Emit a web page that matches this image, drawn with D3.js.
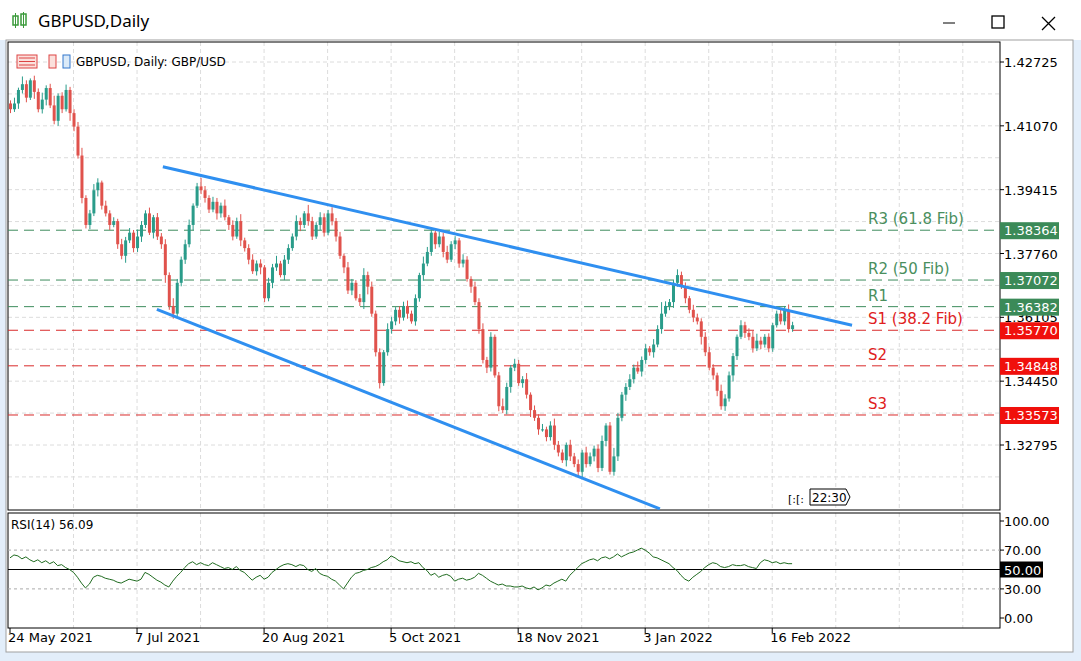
<!DOCTYPE html><html><head><meta charset="utf-8">
<script src="https://cdn.jsdelivr.net/npm/d3@7"></script>
<style>body{margin:0;background:#fff;font-family:"DejaVu Sans",sans-serif}svg{display:block}</style></head><body>
<svg id="c" width="1081" height="661"></svg>
<script>
const closes=[1.4150,1.4165,1.4200,1.4215,1.4180,1.4225,1.4195,1.4150,1.4175,1.4205,1.4160,1.4120,1.4185,1.4150,1.4200,1.4140,1.4105,
1.4030,1.3920,1.3850,1.3880,1.3940,1.3960,1.3900,1.3880,1.3850,1.3860,1.3800,1.3770,1.3810,1.3830,1.3790,1.3820,
1.3850,1.3880,1.3830,1.3870,1.3820,1.3800,1.3720,1.3640,1.3620,1.3700,1.3760,1.3800,1.3850,1.3900,1.3950,1.3940,
1.3920,1.3890,1.3910,1.3880,1.3900,1.3870,1.3850,1.3820,1.3860,1.3810,1.3790,1.3760,1.3730,1.3750,1.3740,
1.3660,1.3700,1.3740,1.3750,1.3720,1.3760,1.3790,1.3820,1.3860,1.3850,1.3880,1.3860,1.3820,1.3850,1.3870,1.3830,1.3880,1.3860,1.3820,
1.3770,1.3740,1.3680,1.3700,1.3660,1.3650,1.3720,1.3690,1.3620,1.3520,1.3440,1.3520,1.3580,1.3600,1.3630,1.3610,1.3640,
1.3620,1.3600,1.3660,1.3720,1.3750,1.3780,1.3830,1.3800,1.3820,1.3780,1.3760,1.3800,1.3810,1.3750,1.3760,1.3710,
1.3690,1.3650,1.3580,1.3500,1.3480,1.3560,1.3460,1.3380,1.3370,1.3430,1.3480,1.3490,1.3440,1.3450,1.3410,1.3370,
1.3350,1.3320,1.3320,1.3300,1.3330,1.3280,1.3260,1.3240,1.3280,1.3250,1.3230,1.3210,1.3260,1.3230,1.3250,1.3270,1.3220,
1.3290,1.3330,1.3210,1.3250,1.3350,1.3410,1.3430,1.3450,1.3480,1.3470,1.3500,1.3530,1.3520,1.3540,1.3580,1.3620,1.3640,1.3650,
1.3700,1.3720,1.3690,1.3660,1.3630,1.3610,1.3600,1.3560,1.3520,1.3480,1.3460,1.3420,1.3380,1.3400,1.3460,1.3510,
1.3560,1.3590,1.3570,1.3560,1.3530,1.3550,1.3540,1.3560,1.3530,1.3590,1.3620,1.3600,1.3630,1.3580,1.3590];
const wickUp=[8,15,6,20,10,5,12,9,18,7,11,25,6,9,14,8,10,12,20,7,9,16,11,5,13,8,10,6,14,9,12,7,18,10,8,15,6,11,9,13,7,20,10,8,12,14,6,9,22,11,7,13,10,8,16,6,12,9,18,7,10,14,8,11,6,13,9,20,7,12,10,8,15,9,6,22,11,7,13,10,9,16,8,12,6,14,10,7,11,18,9,13,8,10,6,15,12,7,9,11,14,8,10,6,18,13,9,7,12,10,16,8,11,6,14,9,7,13,10,15,8,12,6,9,20,11,7,13,10,8,16,6,12,9,14,7,11,18,10,8,6,13,9,12,7,15,10,8,11,14,6,9,22,12,7,10,13,8,16,9,11,6,14,10,30,12,8,7,15,9,11,6,13,10,8,12,14,9,7,16,11,10,8,6,13,9,12,15,18,10,7,9,6,8,12,10,14,9];
const wickDn=[10,7,14,9,12,6,18,8,11,15,7,9,13,10,6,20,12,8,14,9,11,7,16,10,8,13,6,12,9,18,7,11,10,14,8,6,15,9,12,20,10,13,7,9,11,8,14,6,10,12,9,7,16,11,8,13,10,6,15,9,12,7,11,18,10,8,14,9,6,13,11,7,10,16,8,12,9,6,14,10,7,11,13,8,15,9,12,6,10,18,20,8,11,14,7,9,12,10,16,8,13,6,11,9,15,7,10,12,8,14,9,6,13,11,10,7,16,8,12,9,14,10,6,13,8,11,15,9,7,12,10,18,8,14,6,11,9,13,10,7,16,12,8,10,15,9,6,13,11,8,14,7,10,12,9,16,8,11,6,13,10,9,14,7,12,8,11,15,10,6,13,9,12,8,20,10,7,11,14,9,12,8,16,10,6,13,9,11,7,12,8,10,9,6,8,10,9,7];
const rsi=[62,65,64,61,63,60,58,60,57,59,56,58,54,55,52,50,47,42,36,31,35,42,44,43,41,40,39,37,36,38,40,39,38,40,47,45,42,39,37,34,32,38,43,47,52,56,58,55,57,55,54,57,55,53,51,52,50,53,49,47,43,39,42,44,40,42,47,50,53,55,56,55,53,55,54,50,48,51,46,44,43,40,38,34,30,36,42,46,47,49,50,52,53,55,58,60,64,62,59,58,57,58,56,57,52,49,44,46,42,44,45,43,38,40,41,39,40,42,46,44,41,38,36,34,35,33,33,32,32,33,31,30,32,29,31,34,33,36,38,40,38,44,48,52,56,58,60,61,59,62,63,61,63,66,63,65,67,68,70,72,70,67,63,62,60,58,56,52,49,44,40,38,42,45,48,52,55,57,56,53,52,53,55,54,54,55,53,52,51,57,60,59,57,58,56,57,56,56];
const priceTicks=[1.42725,1.41070,1.39415,1.37760,1.36105,1.34450,1.32795];
const rsiTicks=[100,70,50,30,0];
const dateLabels=["24 May 2021","7 Jul 2021","20 Aug 2021","5 Oct 2021","18 Nov 2021","3 Jan 2022","16 Feb 2022"];
const levelText=["R3 (61.8 Fib)","R2 (50 Fib)","R1","S1 (38.2 Fib)","S2","S3"];
const levelValues=[1.38364,1.37072,1.36382,1.35770,1.34848,1.33573];
const upperTrend=[[38.5,1.4001],[212.1,1.3590]];
const lowerTrend=[[37.0,1.3631],[163.7,1.3114]];

const svg=d3.select("#c");
const L=8,R=1000,T=42,B=510,RT=513,RB=628;
svg.append("rect").attr("width",1081).attr("height",661).attr("fill","#e3eefa");
svg.append("rect").attr("width",1081).attr("height",40).attr("fill","#fff");
svg.append("text").attr("x",38).attr("y",27).attr("font-size",17).attr("font-family","Segoe UI, Noto Sans, sans-serif").attr("fill","#000").text("GBPUSD,Daily");
const ic=svg.append("g").attr("transform","translate(12,13)");
ic.append("rect").attr("x",1).attr("y",3).attr("width",5).attr("height",9).attr("fill","none").attr("stroke","#3a9a3a").attr("stroke-width",1.5);
ic.append("rect").attr("x",9).attr("y",1).attr("width",5).attr("height",11).attr("fill","none").attr("stroke","#3a9a3a").attr("stroke-width",1.5);
ic.append("line").attr("x1",3.5).attr("x2",3.5).attr("y1",0).attr("y2",15).attr("stroke","#3a9a3a");
ic.append("line").attr("x1",11.5).attr("x2",11.5).attr("y1",-1).attr("y2",15).attr("stroke","#3a9a3a");
svg.append("line").attr("x1",943).attr("x2",955).attr("y1",23).attr("y2",23).attr("stroke","#000");
svg.append("rect").attr("x",992).attr("y",16).attr("width",12).attr("height",12).attr("fill","none").attr("stroke","#000").attr("stroke-width",1.3);
svg.append("path").attr("d","M1042,17L1055,30M1055,17L1042,30").attr("stroke","#000").attr("stroke-width",1.3);
svg.append("rect").attr("x",6).attr("y",40).attr("width",1067).attr("height",612).attr("fill","#fff").attr("stroke","#a0a0a0");

const x=d3.scaleLinear().domain([0,1]).range([10,13.97]);
const y=d3.scaleLinear().domain([1.42725,1.32795]).range([62,445]);
const ry=d3.scaleLinear().domain([0,100]).range([618,521]);

svg.append("clipPath").attr("id","cp").append("rect").attr("x",L).attr("y",T).attr("width",R-L).attr("height",B-T);
svg.append("clipPath").attr("id","cp2").append("rect").attr("x",L).attr("y",RT).attr("width",R-L).attr("height",RB-RT);
const vg=d3.range(16,250,16);
const grid=svg.append("g").attr("stroke","#dcdcdc").attr("stroke-dasharray","4,3");
vg.forEach(i=>{grid.append("line").attr("x1",x(i)).attr("x2",x(i)).attr("y1",T).attr("y2",B);grid.append("line").attr("x1",x(i)).attr("x2",x(i)).attr("y1",RT).attr("y2",RB);});
[...priceTicks,1.41898,1.40243,1.38588,1.36933,1.35278,1.33623,1.31968].forEach(p=>grid.append("line").attr("x1",L).attr("x2",R).attr("y1",y(p)).attr("y2",y(p)));
svg.append("rect").attr("x",L).attr("y",T).attr("width",R-L).attr("height",B-T).attr("fill","none").attr("stroke","#000");
svg.append("rect").attr("x",L).attr("y",RT).attr("width",R-L).attr("height",RB-RT).attr("fill","none").attr("stroke","#000");
const g=svg.append("g").attr("clip-path","url(#cp)");
levelValues.forEach((v,i)=>{const c=i<3?"#3d8c5c":"#d92a2a";
 g.append("line").attr("x1",L).attr("x2",R).attr("y1",y(v)).attr("y2",y(v)).attr("stroke",c).attr("stroke-dasharray","10,6");
 svg.append("text").attr("x",868).attr("y",y(v)-6).attr("font-size",15).attr("fill",i<3?"#4a8f5e":"#e02020").text(levelText[i]);});
closes.forEach((c,i)=>{const o=i?closes[i-1]:c+0.0015;const up=c>=o;const col=up?"#2a9c8a":"#e0524c";
 const hi=Math.max(o,c)+(wickUp[i]??8)/10000, lo=Math.min(o,c)-(wickDn[i]??8)/10000;
 g.append("line").attr("x1",x(i)+0.5).attr("x2",x(i)+0.5).attr("y1",y(hi)).attr("y2",y(lo)).attr("stroke",col);
 g.append("rect").attr("x",x(i)-1).attr("width",3).attr("y",y(Math.max(o,c))).attr("height",Math.max(1,y(Math.min(o,c))-y(Math.max(o,c)))).attr("fill",col);});
[upperTrend,lowerTrend].forEach(t=>g.append("line").attr("x1",x(t[0][0])).attr("y1",y(t[0][1])).attr("x2",x(t[1][0])).attr("y2",y(t[1][1])).attr("stroke","#2f8ff0").attr("stroke-width",3));
priceTicks.forEach(p=>{svg.append("line").attr("x1",R).attr("x2",R+4).attr("y1",y(p)).attr("y2",y(p)).attr("stroke","#000");
 svg.append("text").attr("x",1004).attr("y",y(p)+5).attr("font-size",13).text(p.toFixed(5));});
levelValues.forEach((v,i)=>{svg.append("rect").attr("x",1000).attr("y",y(v)-8).attr("width",59).attr("height",17).attr("fill",i<3?"#3b8a58":"#f0100c");
 svg.append("text").attr("x",1004).attr("y",y(v)+5).attr("font-size",13).attr("fill","#fff").text(v.toFixed(5));});
svg.append("text").attr("x",76).attr("y",66).attr("font-size",12).text("GBPUSD, Daily:  GBP/USD");
const hg=svg.append("g");
hg.append("rect").attr("x",17).attr("y",55).attr("width",20).attr("height",13).attr("fill","#fbe0dc").attr("stroke","#d44");
[58,61.5,65].forEach(yy=>hg.append("line").attr("x1",19).attr("x2",35).attr("y1",yy).attr("y2",yy).attr("stroke","#d44"));
hg.append("rect").attr("x",49).attr("y",55).attr("width",7).attr("height",13).attr("fill","#fbe0dc").attr("stroke","#d44");
hg.append("rect").attr("x",63).attr("y",55).attr("width",7).attr("height",13).attr("fill","#dbeaf8").attr("stroke","#37c");
svg.append("path").attr("d","M810,489h36l4,8l-4,8h-36z").attr("fill","#fff").attr("stroke","#000");
svg.append("text").attr("x",812).attr("y",502).attr("font-size",12).text("22:30");
svg.append("text").attr("x",788).attr("y",503).attr("font-size",11).text("[:[:");
const rg=svg.append("g").attr("clip-path","url(#cp2)");
[70,30].forEach(v=>rg.append("line").attr("x1",L).attr("x2",R).attr("y1",ry(v)).attr("y2",ry(v)).attr("stroke","#aaa").attr("stroke-dasharray","3,3"));
rg.append("line").attr("x1",L).attr("x2",R).attr("y1",ry(50)).attr("y2",ry(50)).attr("stroke","#000");
rg.append("path").attr("d",d3.line().x((d,i)=>x(i)).y(d=>ry(d))(rsi)).attr("fill","none").attr("stroke","#1f6b1f");
svg.append("text").attr("x",11).attr("y",529).attr("font-size",12).text("RSI(14) 56.09");
rsiTicks.forEach(v=>{svg.append("line").attr("x1",R).attr("x2",R+4).attr("y1",ry(v)).attr("y2",ry(v)).attr("stroke","#000");
 if(v===50){svg.append("rect").attr("x",1000).attr("y",ry(v)-8).attr("width",43).attr("height",16).attr("fill","#000");}
 svg.append("text").attr("x",1004).attr("y",ry(v)+5).attr("font-size",13).attr("fill",v===50?"#fff":"#000").text(v.toFixed(2));});
dateLabels.forEach((d,k)=>{const xi=x(k*32);svg.append("line").attr("x1",xi).attr("x2",xi).attr("y1",RB).attr("y2",RB+5).attr("stroke","#000");
 svg.append("text").attr("x",xi-2).attr("y",642).attr("font-size",13).text(d);});
</script></body></html>
